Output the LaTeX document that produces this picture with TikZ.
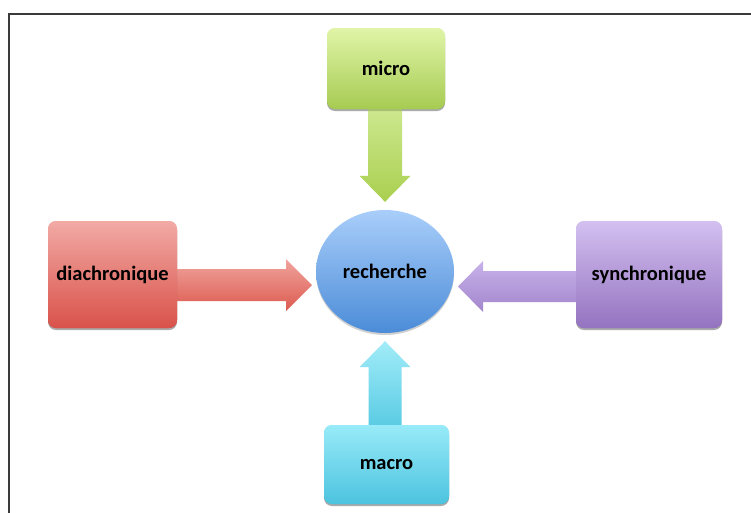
\documentclass[tikz,border=0pt]{standalone}
\usepackage{fontspec}
\setmainfont{Carlito}
\usetikzlibrary{calc,shapes.geometric,shadows}
\definecolor{micT}{HTML}{E0F5A8}
\definecolor{micB}{HTML}{A6CB52}
\definecolor{micAT}{HTML}{CDE88E}
\definecolor{micAB}{HTML}{A9CF4F}
\definecolor{diaT}{HTML}{F2AAA5}
\definecolor{diaB}{HTML}{D9524A}
\definecolor{diaAT}{HTML}{F0A49D}
\definecolor{diaAB}{HTML}{DC5A50}
\definecolor{recT}{HTML}{A9CEFA}
\definecolor{recB}{HTML}{4B8CD8}
\definecolor{synT}{HTML}{D3C0F0}
\definecolor{synB}{HTML}{9473C0}
\definecolor{synAT}{HTML}{C8B2EA}
\definecolor{synAB}{HTML}{A286CC}
\definecolor{macT}{HTML}{98EBF8}
\definecolor{macB}{HTML}{4CC3DF}
\definecolor{macAT}{HTML}{A2ECF8}
\definecolor{macAB}{HTML}{5BCCE4}
\definecolor{frame}{HTML}{3A3A3A}
\tikzset{
  lbl/.style={font=\fontsize{20.5}{24}\selectfont\bfseries, text=black},
  box/.style={lbl, rectangle, rounded corners=8pt, inner sep=0pt,
    drop shadow={shadow xshift=0pt, shadow yshift=-2pt, opacity=0.18, fill=black}},
  blob/.style={lbl, ellipse, inner sep=0pt,
    drop shadow={shadow xshift=0pt, shadow yshift=-2pt, opacity=0.18, fill=black}},
}
\begin{document}
\begin{tikzpicture}[x=1pt,y=-1pt]
\useasboundingbox (0,0) rectangle (751,512);
\clip (0,0) rectangle (751,512);
\fill[white] (0,0) rectangle (751,512);
\draw[frame, line width=2pt] (9,530) -- (9,14) -- (770,14);

% nodes
\node[box, top color=micT, bottom color=micB, minimum width=118pt, minimum height=81pt] (micro) at (386,68.5) {micro};
\node[box, top color=diaT, bottom color=diaB, minimum width=129pt, minimum height=107pt] (dia) at (112.5,274.5) {diachronique};
\node[box, top color=synT, bottom color=synB, minimum width=146pt, minimum height=107pt] (syn) at (649,274.5) {synchronique};
\node[box, top color=macT, bottom color=macB, minimum width=125pt, minimum height=79pt] (macro) at (386.5,464.5) {macro};
\node[blob, top color=recT, bottom color=recB, minimum width=138pt, minimum height=123pt] (rech) at (385,271.5) {recherche};

% connector end points
\coordinate (mt) at ($(rech.north)+(0,-8)$);
\coordinate (ms) at (mt |- micro.south);
\coordinate (bt) at ($(rech.south)+(0,8)$);
\coordinate (bs) at (bt |- macro.north);
\coordinate (lt) at (312,285);
\coordinate (rt) at (458,286.5);

% micro -> recherche
\path[top color=micAT, bottom color=micAB]
  ($(ms)+(-17,0)$) -- ($(mt)+(-17,-26)$) -- ($(mt)+(-25.5,-26)$) -- (mt)
  -- ($(mt)+(25.5,-26)$) -- ($(mt)+(17,-26)$) -- ($(ms)+(17,0)$) -- cycle;
% macro -> recherche
\path[top color=macAT, bottom color=macAB]
  ($(bs)+(-16.5,0)$) -- ($(bt)+(-16.5,26)$) -- ($(bt)+(-25.5,26)$) -- (bt)
  -- ($(bt)+(25.5,26)$) -- ($(bt)+(16.5,26)$) -- ($(bs)+(16.5,0)$) -- cycle;
% diachronique -> recherche
\path[top color=diaAT, bottom color=diaAB]
  (dia.east |- 0,269) -- ($(lt)+(-26,-16)$) -- ($(lt)+(-26,-26)$) -- (lt)
  -- ($(lt)+(-26,26)$) -- ($(lt)+(-26,16)$) -- (dia.east |- 0,301) -- cycle;
% synchronique -> recherche
\path[top color=synAT, bottom color=synAB]
  (syn.west |- 0,271) -- ($(rt)+(25,-15.5)$) -- ($(rt)+(25,-25.5)$) -- (rt)
  -- ($(rt)+(25,25.5)$) -- ($(rt)+(25,15.5)$) -- (syn.west |- 0,302) -- cycle;

% redraw boxes over arrow ends
\node[box, top color=micT, bottom color=micB, minimum width=118pt, minimum height=81pt] at (micro) {micro};
\node[box, top color=diaT, bottom color=diaB, minimum width=129pt, minimum height=107pt] at (dia) {diachronique};
\node[box, top color=synT, bottom color=synB, minimum width=146pt, minimum height=107pt] at (syn) {synchronique};
\node[box, top color=macT, bottom color=macB, minimum width=125pt, minimum height=79pt] at (macro) {macro};
\end{tikzpicture}
\end{document}
